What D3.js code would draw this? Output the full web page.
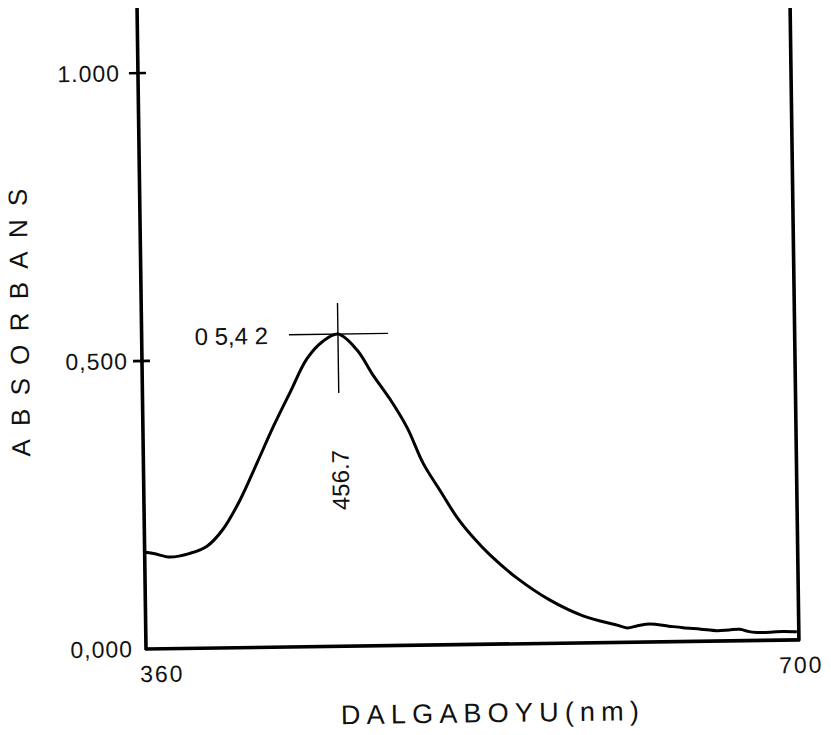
<!DOCTYPE html>
<html lang="tr">
<head>
  <meta charset="UTF-8">
  <script src="https://d3js.org/d3.v7.min.js"></script>
  <title>Absorbans spektrumu</title>
  <style>
    body { margin: 0; background: #fff; }
    text { font-family: "Liberation Sans", Arial, sans-serif; fill: #111; }
  </style>
</head>
<body>
  <svg width="831" height="735"></svg>
  <script>
    // veriler (okunan değerler)
    var wavelength = [353, 358, 366, 376.6, 385.7, 394.3, 403.5, 412.8, 421.6, 430.9,
                      440.1, 448.7, 456.7, 466.7, 475.0, 483.8, 492.7, 500.9, 509.7, 518.5,
                      526.9, 535.7, 549.9, 567.2, 584.6, 602.6, 607.9, 614, 620.1, 630,
                      637.6, 647, 655.5, 662, 667.7, 672, 676.7, 684, 690.5, 697.9];
    var absorbance = [0.168, 0.165, 0.159, 0.165, 0.177, 0.206, 0.256, 0.320, 0.382, 0.442,
                      0.500, 0.530, 0.542, 0.514, 0.470, 0.428, 0.378, 0.316, 0.268, 0.221,
                      0.186, 0.155, 0.114, 0.075, 0.047, 0.030, 0.025, 0.029, 0.031, 0.027,
                      0.024, 0.021, 0.018, 0.019, 0.020, 0.016, 0.014, 0.014, 0.015, 0.014];
    var yTicks = [0, 0.5, 1.0];
    var yTickLabels = ["0,000", "0,500", "1.000"];
    var xTicks = [360, 700];
    var xTickLabels = ["360", "700"];
    var peakWavelength = 456.7;
    var peakAbsorbance = 0.542;
    var peakXLabel = "456.7";
    var peakYLabel = "0 5,4 2";

    var svg = d3.select("svg");
    // taranmış sayfa hafif eğik
    var g = svg.append("g").attr("transform", "translate(146,649) rotate(-0.8)");

    var x = d3.scaleLinear().domain([360, 700]).range([14, 655]);
    var y = d3.scaleLinear().domain([0, 1]).range([0, -576]);
    var xEnd = 653;

    // eksen çizgileri
    g.append("line").attr("x1", 0).attr("x2", 0).attr("y1", 1).attr("y2", -641)
      .attr("stroke", "#000").attr("stroke-width", 3.6);
    g.append("line").attr("x1", xEnd).attr("x2", xEnd).attr("y1", 1).attr("y2", -632)
      .attr("stroke", "#000").attr("stroke-width", 3.6);
    g.append("line").attr("x1", -1).attr("x2", xEnd + 1).attr("y1", 0).attr("y2", 0)
      .attr("stroke", "#000").attr("stroke-width", 3.6);

    // y işaretleri
    yTicks.forEach(function(d, i) {
      if (d > 0) {
        g.append("line").attr("x1", -9).attr("x2", 8).attr("y1", y(d)).attr("y2", y(d))
          .attr("stroke", "#000").attr("stroke-width", 2.6);
      }
      g.append("text")
        .attr("x", i == 0 ? -13 : (i == 1 ? -14 : -18))
        .attr("y", y(d) + 8)
        .attr("text-anchor", "end")
        .attr("font-size", 23)
        .attr("letter-spacing", 1)
        .text(yTickLabels[i]);
    });

    // x etiketleri
    xTicks.forEach(function(d, i) {
      g.append("text")
        .attr("x", x(d) + (i == 0 ? 2 : 0))
        .attr("y", 33)
        .attr("text-anchor", "middle")
        .attr("font-size", 23)
        .attr("letter-spacing", 2)
        .text(xTickLabels[i]);
    });

    // eğri
    var line = d3.line()
      .x(function(d, i) { return x(wavelength[i]); })
      .y(function(d) { return y(d); })
      .curve(d3.curveCatmullRom);
    g.append("path")
      .attr("d", line(absorbance))
      .attr("fill", "none")
      .attr("stroke", "#000")
      .attr("stroke-width", 3)
      .attr("stroke-linejoin", "round");

    // tepe noktası işareti
    var px = x(peakWavelength), py = y(peakAbsorbance);
    g.append("line").attr("x1", px - 49).attr("x2", px + 50).attr("y1", py).attr("y2", py)
      .attr("stroke", "#000").attr("stroke-width", 1.4);
    g.append("line").attr("x1", px).attr("x2", px).attr("y1", py - 31).attr("y2", py + 59)
      .attr("stroke", "#000").attr("stroke-width", 1.4);
    g.append("text")
      .attr("x", px - 70).attr("y", py + 9)
      .attr("text-anchor", "end")
      .attr("font-size", 24)
      .text(peakYLabel);
    g.append("text")
      .attr("transform", "translate(" + (px + 9) + "," + (py + 146) + ") rotate(-90)")
      .attr("text-anchor", "middle")
      .attr("font-size", 24)
      .text(peakXLabel);

    // eksen başlıkları
    g.append("text")
      .attr("x", 194).attr("y", 78)
      .attr("font-size", 27)
      .attr("textLength", 298)
      .attr("lengthAdjust", "spacing")
      .text("DALGABOYU(nm)");
    g.append("text")
      .attr("transform", "translate(-113,-328) rotate(-90)")
      .attr("text-anchor", "middle")
      .attr("font-size", 26)
      .attr("textLength", 268)
      .attr("lengthAdjust", "spacing")
      .text("ABSORBANS");
  </script>
</body>
</html>
